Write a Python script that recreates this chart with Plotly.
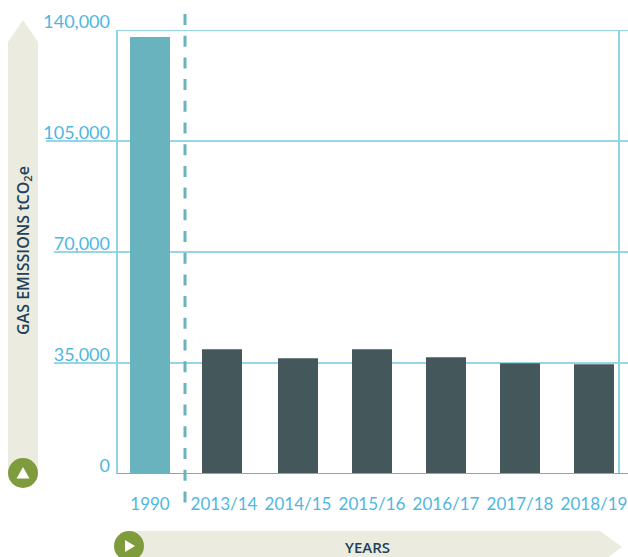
import plotly.graph_objects as go

categories = ["1990", "2013/14", "2014/15", "2015/16", "2016/17", "2017/18", "2018/19"]
emissions = [137800, 39300, 36500, 39300, 36800, 34900, 34600]
bar_colors = ["#69b3bf", "#44585b", "#44585b", "#44585b", "#44585b", "#44585b", "#44585b"]
y_ticks = [0, 35000, 70000, 105000, 140000]
y_tick_labels = ["0", "35,000", "70,000", "105,000", "140,000"]
y_title = "GAS EMISSIONS tCO<sub>2</sub>e"
x_title = "YEARS"

W, H = 628, 557
L, R, T, B = 117, 628, 30, 474
FONT = "Lato"
TICK = "#4fb7df"
GRID = "#74c8e2"
PANEL = "#ebecdf"
OLIVE = "#7f9c3d"
NAVY = "#22415a"
BAR_W = 40 / 74


def px(x):
    return (x - L) / (R - L)


def py(y):
    return (B - y) / (B - T)


def path(points):
    return "M " + " L ".join(f"{px(x):.5f},{py(y):.5f}" for x, y in points) + " Z"


def paper_shape(**kw):
    return dict(xref="paper", yref="paper", **kw)


shapes = []
# gridlines with their leftward extensions
for v, x0 in zip(y_ticks[1:], [54, 54, 46, 117]):
    shapes.append(dict(type="line", xref="paper", yref="y", x0=px(x0), x1=1, y0=v, y1=v,
                       line=dict(color=GRID, width=1.6), layer="below"))
# frame verticals
for xv in [117, 619]:
    shapes.append(paper_shape(type="line", x0=px(xv), x1=px(xv), y0=0, y1=1,
                              line=dict(color="#92d2e5", width=2), layer="below"))
# baseline
shapes.append(dict(type="line", xref="paper", yref="y", x0=0, x1=1, y0=0, y1=0,
                   line=dict(color="#56b6dc", width=2), layer="above"))
# dashed divider
shapes.append(paper_shape(type="line", x0=px(185), x1=px(185), y0=py(14), y1=py(509),
                          line=dict(color="#69b3bf", width=3, dash="11px,10.7px"), layer="above"))
# vertical arrow panel
shapes.append(paper_shape(type="path", path=path([(8, 473), (8, 42), (23, 20), (38, 42), (38, 473)]),
                          fillcolor=PANEL, line=dict(width=0), layer="below"))
shapes.append(paper_shape(type="circle", x0=px(8), x1=px(38), y0=py(458), y1=py(488),
                          fillcolor=OLIVE, line=dict(width=0), layer="above"))
shapes.append(paper_shape(type="path", path=path([(16.5, 478.5), (23, 467), (29.5, 478.5)]),
                          fillcolor="white", line=dict(width=0), layer="above"))
# horizontal arrow panel
shapes.append(paper_shape(type="path", path=path([(129, 531), (600, 531), (622, 547), (600, 563), (129, 563)]),
                          fillcolor=PANEL, line=dict(width=0), layer="below"))
shapes.append(paper_shape(type="circle", x0=px(114), x1=px(144), y0=py(531), y1=py(561),
                          fillcolor=OLIVE, line=dict(width=0), layer="above"))
shapes.append(paper_shape(type="path", path=path([(125, 540), (135, 546), (125, 552)]),
                          fillcolor="white", line=dict(width=0), layer="above"))

# the 2013/14 bar sits slightly left of the even category spacing
bar_offsets = [-BAR_W / 2 - (2 / 74 if c == "2013/14" else 0) for c in categories]

fig = go.Figure(go.Bar(x=categories, y=emissions, marker=dict(color=bar_colors, line=dict(width=0)),
                       width=BAR_W, offset=bar_offsets, hoverinfo="x+y"))

fig.update_layout(
    width=W, height=H,
    margin=dict(l=L, r=W - R, t=T, b=H - B, pad=0),
    paper_bgcolor="white", plot_bgcolor="rgba(0,0,0,0)",
    showlegend=False,
    font=dict(family=FONT, color=TICK),
    shapes=shapes,
    annotations=[
        dict(xref="paper", yref="paper", x=px(23), y=py(251), xanchor="center", yanchor="middle",
             text=y_title, textangle=-90, showarrow=False,
             font=dict(family="Open Sans", size=16, color=NAVY, weight=600)),
        dict(xref="paper", yref="paper", x=px(367), y=py(547), xanchor="center", yanchor="middle",
             text=x_title, showarrow=False,
             font=dict(family="Open Sans", size=15, color=NAVY, weight=600)),
    ],
)
fig.update_xaxes(type="category", range=[(L - 150) / 74, (R - 150) / 74], showgrid=False, zeroline=False,
                 showline=False, ticks="", tickfont=dict(family=FONT, size=17, color=TICK),
                 ticklabelstandoff=18, tickangle=0)
fig.update_yaxes(range=[0, 140000], tickvals=y_ticks, ticktext=y_tick_labels, showgrid=False, zeroline=False,
                 showline=False, ticks="", tickfont=dict(family=FONT, size=18, color=TICK),
                 ticklabelshift=-8, ticklabelstandoff=6)

fig.write_html("out.html", config=dict(displayModeBar=False),
               post_script="document.body.style.margin='0';document.body.style.overflow='hidden';")
